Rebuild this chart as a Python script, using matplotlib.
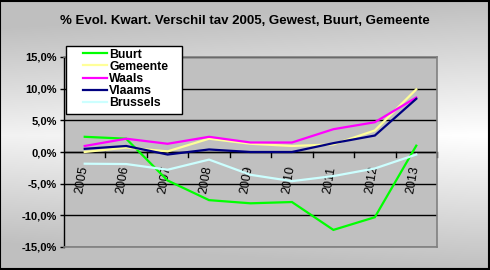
import numpy as np
import matplotlib
matplotlib.use("Agg")
import matplotlib.pyplot as plt
from matplotlib.ticker import FixedLocator, FuncFormatter

years = ["2005", "2006", "2007", "2008", "2009", "2010", "2011", "2012", "2013"]
buurt = [2.4, 2.1, -4.5, -7.6, -8.1, -7.9, -12.3, -10.3, 1.0]
gemeente = [0.0, 0.7, 0.1, 2.1, 1.3, 0.95, 1.2, 3.4, 9.9]
waals = [0.95, 2.1, 1.3, 2.4, 1.5, 1.5, 3.6, 4.7, 8.6]
vlaams = [0.5, 0.95, -0.4, 0.4, 0.0, 0.0, 1.4, 2.6, 8.4]
brussels = [-1.85, -1.9, -2.8, -1.2, -3.6, -4.6, -3.8, -2.6, -0.4]

series = [
    ("Buurt", buurt, "#00FF00"),
    ("Gemeente", gemeente, "#FFFF99"),
    ("Waals", waals, "#FF00FF"),
    ("Vlaams", vlaams, "#000080"),
    ("Brussels", brussels, "#CCFFFF"),
]

plt.rcParams['font.family'] = ['Liberation Sans', 'DejaVu Sans']

W, H = 490, 270
fig = plt.figure(figsize=(W / 100, H / 100), dpi=100)

# gradient background
bg = fig.add_axes([0, 0, 1, 1], zorder=0)
yy, xx = np.mgrid[0:H, 0:W]
val = 1.0 - 0.25 * np.abs(yy - 135) / 135.0 - 0.05 * np.clip((470 - xx) / 470.0, 0, 1)
val = np.clip(val, 0.75, 1.0)
bg.imshow(np.dstack([val, val, val]), aspect='auto', extent=[0, 1, 0, 1], origin='upper')
bg.set_xlim(0, 1)
bg.set_ylim(0, 1)
bg.axis('off')
bg.add_patch(plt.Rectangle((0.001, 0.002), 0.997, 0.995, fill=False, edgecolor='black', lw=1.5,
                           transform=bg.transAxes))

ax = fig.add_axes([64 / W, 1 - 247 / H, (437 - 64) / W, (247 - 57) / H], zorder=1)
ax.set_facecolor("#C0C0C0")
x = np.arange(len(years))
for name, vals, col in series:
    ax.plot(x, vals, color=col, lw=1.6, label=name, solid_joinstyle='miter')

ax.set_xlim(-0.5, len(years) - 0.5)
ax.set_ylim(-15, 15)
ax.yaxis.set_major_locator(FixedLocator([-15, -10, -5, 0, 5, 10, 15]))
ax.yaxis.set_major_formatter(FuncFormatter(lambda v, p: ("%.1f%%" % v).replace('.', ',')))
ax.grid(axis='y', color='black', lw=1.0)
ax.set_axisbelow(True)
for t in ax.get_yticklabels():
    t.set_fontweight('bold')
ax.tick_params(axis='y', labelsize=8, length=3, width=1, color='black', pad=2)

for s in ['top', 'right', 'bottom']:
    ax.spines[s].set_color('#808080')
    ax.spines[s].set_linewidth(1.2)
ax.spines['left'].set_color('black')
ax.spines['left'].set_linewidth(1.0)

# x axis at zero
ax.axhline(0, color='black', lw=1.0, zorder=1.5)
ax.set_xticks(x)
ax.set_xticklabels([])
ax.tick_params(axis='x', length=0)
for i in range(1, len(years) + 1):
    ax.plot([i - 0.5, i - 0.5], [0, -0.75], color='black', lw=1.0, zorder=1.5, clip_on=False)
for i, yl in enumerate(years):
    ax.text(i - 0.08, -2.1, yl, rotation=80, ha='center', va='top', fontsize=9,
            rotation_mode='default', zorder=1.6)

# legend box
ax.add_patch(plt.Rectangle((66 / W, 1 - 114 / H), (182 - 66) / W, (114 - 46) / H,
                           transform=fig.transFigure, facecolor='white', edgecolor='black',
                           lw=1.0, zorder=4, clip_on=False))
leg = ax.legend(loc='upper left', bbox_to_anchor=(83 / W, 1 - 48.5 / H), bbox_transform=fig.transFigure,
                frameon=False, prop={'weight': 'bold', 'size': 8.8}, handlelength=2.0,
                handletextpad=0.15, labelspacing=0.02, borderpad=0.0, borderaxespad=0)
leg.set_zorder(5)

fig.text(245 / W, 1 - 21 / H, "% Evol. Kwart. Verschil tav 2005, Gewest, Buurt, Gemeente",
         ha='center', va='center', fontsize=9.5, fontweight='bold', zorder=3)

fig.savefig("out.png", dpi=100)
